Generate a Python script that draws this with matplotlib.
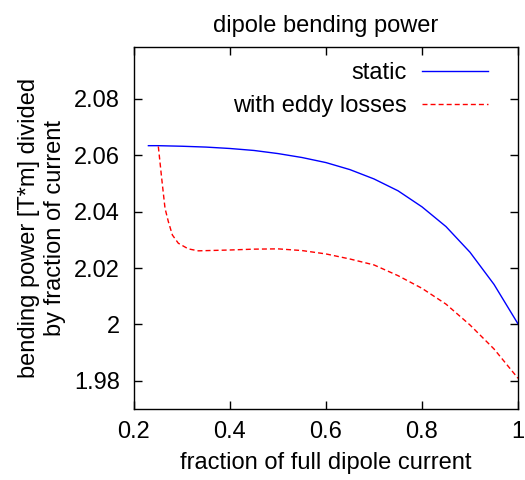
import matplotlib
matplotlib.use("Agg")
import matplotlib.pyplot as plt

plt.rcParams['font.family'] = ['Liberation Sans', 'DejaVu Sans']

# data
x_static = [0.23, 0.25, 0.30, 0.35, 0.40, 0.45, 0.50, 0.55, 0.60, 0.65,
            0.70, 0.75, 0.80, 0.85, 0.90, 0.95, 1.00]
y_static = [2.0634, 2.0634, 2.0632, 2.0629, 2.0624, 2.0617, 2.0606, 2.0592,
            2.0574, 2.0549, 2.0516, 2.0474, 2.0417, 2.0347, 2.0256, 2.0142,
            2.0002]

x_eddy = [0.2507, 0.2577, 0.2646, 0.2715, 0.28, 0.2923, 0.313, 0.334,
          0.40, 0.45, 0.50, 0.55, 0.60, 0.65, 0.70, 0.75, 0.80, 0.85,
          0.90, 0.95, 1.00]
y_eddy = [2.0631, 2.0518, 2.0412, 2.0365, 2.0317, 2.0288, 2.0268, 2.0261,
          2.0264, 2.0267, 2.0268, 2.0262, 2.0250, 2.0232, 2.0211, 2.0173,
          2.0128, 2.0072, 1.9998, 1.9913, 1.9809]

x_ticks = [0.2, 0.4, 0.6, 0.8, 1.0]
x_ticklabels = ['0.2', '0.4', '0.6', '0.8', '1']
y_ticks = [1.98, 2.00, 2.02, 2.04, 2.06, 2.08]
y_ticklabels = ['1.98', '2', '2.02', '2.04', '2.06', '2.08']

FS = 17

fig = plt.figure(figsize=(5.25, 4.8), dpi=100)
ax = fig.add_axes([134/525, 1 - 409/480, (518-134)/525, (409-47)/480])

l1, = ax.plot(x_static, y_static, color='#0000ff', lw=1.0, label='static')
l2, = ax.plot(x_eddy, y_eddy, color='#ff0000', lw=1.0, dashes=(3.6, 2.2),
              label='with eddy losses')

ax.set_xlim(0.2, 1.0)
ax.set_ylim(1.97, 2.0984)
ax.set_xticks(x_ticks)
ax.set_xticklabels(x_ticklabels)
ax.set_yticks(y_ticks)
ax.set_yticklabels(y_ticklabels)
ax.tick_params(direction='in', length=6, width=1, top=True, right=True,
               labelsize=FS)
ax.tick_params(axis='x', pad=9)
ax.tick_params(axis='y', pad=10)
for s in ax.spines.values():
    s.set_linewidth(1.0)

ax.set_title('dipole bending power', fontsize=FS, pad=11)
ax.set_xlabel('fraction of full dipole current', fontsize=FS, labelpad=6)
ax.set_ylabel('bending power [T*m] divided\nby fraction of current',
              fontsize=FS, labelpad=6, linespacing=1.25)

common = dict(frameon=False, markerfirst=False, fontsize=FS,
              handlelength=2.8, handletextpad=0.64, borderpad=0,
              borderaxespad=0, loc='center right')
leg1 = ax.legend(handles=[l1], bbox_to_anchor=(0.922, 0.928), **common)
ax.add_artist(leg1)
leg2 = ax.legend(handles=[l2], bbox_to_anchor=(0.922, 0.837), **common)

fig.savefig('out.png', dpi=100)
